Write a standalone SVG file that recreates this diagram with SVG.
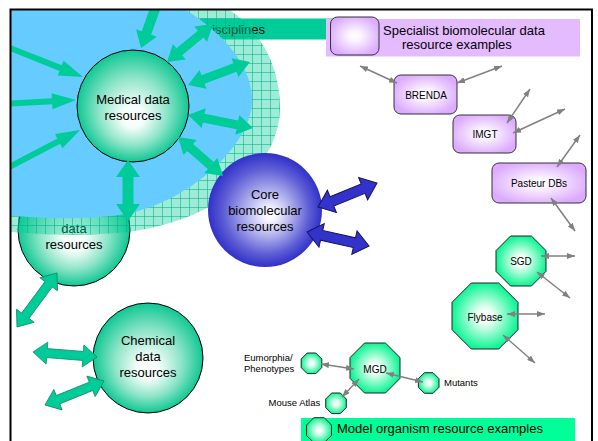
<svg xmlns="http://www.w3.org/2000/svg" width="598" height="441" viewBox="0 0 598 441">
<style>
text{font-family:"Liberation Sans",Arial,sans-serif;fill:#000}
.t13{font-size:13px}
.t10{font-size:10px}
.t9{font-size:9.5px}
.mid{text-anchor:middle}
.circ{stroke:#000;stroke-width:1}
.oct{fill:url(#gGreen);stroke:#222;stroke-width:1}
.pbox{fill:url(#gPurple);stroke:#333;stroke-width:1}
.ta{fill:#00cc99}
.tao{fill:#00cc99;stroke:#128a66;stroke-width:0.8}
.ba{fill:#3333cc;stroke:#14145e;stroke-width:1}
.ga{fill:none;stroke:#808080;stroke-width:1.5;marker-start:url(#gh);marker-end:url(#gh)}
</style>
<defs>
<radialGradient id="gTeal" cx="50%" cy="50%" r="50%" fx="50%" fy="62%">
<stop offset="0" stop-color="#ffffff"/><stop offset="0.2" stop-color="#f4fdfa"/><stop offset="0.6" stop-color="#8fe5c9"/><stop offset="1" stop-color="#10c793"/>
</radialGradient>
<radialGradient id="gBlue" cx="50%" cy="50%" r="50%" fx="55%" fy="55%">
<stop offset="0" stop-color="#ffffff"/><stop offset="0.12" stop-color="#f2f2ff"/><stop offset="0.75" stop-color="#5e5ed6"/><stop offset="1" stop-color="#3030c8"/>
</radialGradient>
<radialGradient id="gGreen" cx="50%" cy="50%" r="50%">
<stop offset="0" stop-color="#ffffff"/><stop offset="0.25" stop-color="#e8fff3"/><stop offset="1" stop-color="#10f595"/>
</radialGradient>
<radialGradient id="gPurple" cx="50%" cy="50%" r="55%">
<stop offset="0" stop-color="#ffffff"/><stop offset="0.25" stop-color="#fbf3ff"/><stop offset="1" stop-color="#dcaaff"/>
</radialGradient>
<pattern id="hatch" width="9" height="9" patternUnits="userSpaceOnUse">
<rect width="9" height="9" fill="#00cc99" fill-opacity="0.38"/>
<path d="M0,0.5H9M0.5,0V9" stroke="#00b386" stroke-width="1" stroke-opacity="0.55"/>
</pattern>
<clipPath id="frameClip"><rect x="11" y="10" width="580" height="431"/></clipPath>
<marker id="gh" viewBox="0 0 8 6" refX="8" refY="3" markerWidth="8" markerHeight="6" markerUnits="userSpaceOnUse" orient="auto-start-reverse">
<path d="M0,0L8,3L0,6z" fill="#808080"/>
</marker>
</defs>

<g id="disciplines-label">
<rect x="200" y="18.5" width="138" height="21" fill="#00cc99"/>
<text class="t13" x="205" y="33.5">disciplines</text>
</g>

<g id="data-resources">
<circle class="circ" cx="74" cy="230" r="56" fill="url(#gTeal)"/>
<text class="t13 mid" x="74" y="233">data</text>
<text class="t13 mid" x="74" y="249">resources</text>
</g>

<g id="domain-area" clip-path="url(#frameClip)">
<path d="M212,0 C255,20 280,60 280,108 C280,160 228,215 140,230 C100,237 40,235 0,231 L0,0 Z" fill="url(#hatch)"/>
<path d="M168,0 C212,22 252,60 252,100 C252,145 190,200 130,213 C90,221 40,218 0,215 L0,0 Z" fill="#66ccff"/>
</g>

<g id="medical">
<circle class="circ" cx="133" cy="106" r="56" fill="url(#gTeal)"/>
<text class="t13 mid" x="133" y="104">Medical data</text>
<text class="t13 mid" x="133" y="120">resources</text>
</g>

<g id="chemical">
<circle class="circ" cx="148" cy="358" r="55" fill="url(#gTeal)"/>
<text class="t13 mid" x="148" y="345">Chemical</text>
<text class="t13 mid" x="148" y="361">data</text>
<text class="t13 mid" x="148" y="377">resources</text>
</g>

<g id="core">
<circle cx="265" cy="210" r="57" fill="url(#gBlue)"/>
<text class="t13 mid" x="265" y="199">Core</text>
<text class="t13 mid" x="265" y="215">biomolecular</text>
<text class="t13 mid" x="265" y="230.5">resources</text>
</g>

<g id="specialist-legend">
<rect x="326" y="19" width="254" height="37.5" fill="#e5bbff"/>
<rect class="pbox" x="330.5" y="17" width="48.5" height="38" rx="7"/>
<text class="t13" x="383" y="35">Specialist biomolecular data</text>
<text class="t13" x="402" y="49">resource examples</text>
</g>

<g id="brenda">
<rect class="pbox" x="394" y="75" width="63" height="39" rx="7"/>
<text class="t10 mid" x="426" y="98.5">BRENDA</text>
</g>
<g id="imgt">
<rect class="pbox" x="453" y="115" width="63" height="38" rx="7"/>
<text class="t10 mid" x="485" y="137.5">IMGT</text>
</g>
<g id="pasteur">
<rect class="pbox" x="492" y="163" width="94" height="40" rx="7"/>
<text class="t10 mid" x="539" y="187">Pasteur DBs</text>
</g>

<g id="sgd">
<polygon class="oct" points="510.6,236 531.4,236 546,250.6 546,271.4 531.4,286 510.6,286 496,271.4 496,250.6"/>
<text class="t10 mid" x="521" y="265">SGD</text>
</g>
<g id="flybase">
<polygon class="oct" points="471.3,283 498.7,283 518,302.3 518,329.7 498.7,349 471.3,349 452,329.7 452,302.3"/>
<text class="t10 mid" x="485" y="321">Flybase</text>
</g>
<g id="mgd">
<polygon class="oct" points="364.6,343 385.4,343 400,357.6 400,378.4 385.4,393 364.6,393 350,378.4 350,357.6"/>
<text class="t10 mid" x="375" y="372.5">MGD</text>
</g>
<g id="eumorphia">
<polygon class="oct" points="307.2,353 315.8,353 321.8,359 321.8,367.6 315.8,373.6 307.2,373.6 301.2,367.6 301.2,359"/>
<text class="t9" x="244" y="361">Eumorphia/</text>
<text class="t9" x="244" y="372">Phenotypes</text>
</g>
<g id="mouse-atlas">
<polygon class="oct" points="331.7,393 340.3,393 346.3,399 346.3,407.6 340.3,413.6 331.7,413.6 325.7,407.6 325.7,399"/>
<text class="t9" x="268.5" y="405.5">Mouse Atlas</text>
</g>
<g id="mutants">
<polygon class="oct" points="424.4,372.7 433,372.7 439,378.7 439,387.3 433,393.3 424.4,393.3 418.4,387.3 418.4,378.7"/>
<text class="t9" x="444" y="385.5">Mutants</text>
</g>

<g id="model-legend">
<rect x="301" y="418" width="274" height="25" fill="#00ff99"/>
<polygon class="oct" points="313.8,417.7 324.2,417.7 331.5,425 331.5,435.4 324.2,442.7 313.8,442.7 306.5,435.4 306.5,425"/>
<text class="t13" x="337" y="433">Model organism resource examples</text>
</g>

<g id="connectors">
<g clip-path="url(#frameClip)">
<polygon class="ta" points="0,-5 40.3,-5 40.3,-11 56.3,0 40.3,11 40.3,5 0,5" transform="translate(160,-5) rotate(109.7)"/>
<polygon class="ta" points="0,-3 65.3,-3 65.3,-8 89.3,0 65.3,8 65.3,3 0,3" transform="translate(0,44) rotate(21.7)"/>
<polygon class="ta" points="0,-3 52.1,-3 52.1,-8 76.1,0 52.1,8 52.1,3 0,3" transform="translate(0,104) rotate(-3)"/>
<polygon class="ta" points="0,-3 66.4,-3 66.4,-8 90.4,0 66.4,8 66.4,3 0,3" transform="translate(0,172) rotate(-27.7)"/>
</g>
<polygon class="ta" points="0,0 16,-10 16,-4.5 43.7,-4.5 43.7,-10 59.7,0 43.7,10 43.7,4.5 16,4.5 16,10" transform="translate(167,62) rotate(-39.6)"/>
<polygon class="ta" points="0,0 16,-10 16,-4.5 50.1,-4.5 50.1,-10 66.1,0 50.1,10 50.1,4.5 16,4.5 16,10" transform="translate(188,85) rotate(-20.35)"/>
<polygon class="ta" points="0,0 16,-10 16,-4.5 50.3,-4.5 50.3,-10 66.3,0 50.3,10 50.3,4.5 16,4.5 16,10" transform="translate(188,115) rotate(11.3)"/>
<polygon class="ta" points="0,0 16,-10 16,-4.5 43.5,-4.5 43.5,-10 59.5,0 43.5,10 43.5,4.5 16,4.5 16,10" transform="translate(178,137) rotate(40.9)"/>
<polygon class="ta" points="0,0 17,-12 17,-5.5 44,-5.5 44,-12 61,0 44,12 44,5.5 17,5.5 17,12" transform="translate(128,160) rotate(90)"/>
<polygon class="tao" points="0,0 14,-11 14,-4.5 53.2,-4.5 53.2,-11 67.2,0 53.2,11 53.2,4.5 14,4.5 14,11" transform="translate(17,327) rotate(-53.5)"/>
<polygon class="tao" points="0,0 14,-11 14,-4.5 50.2,-4.5 50.2,-11 64.2,0 50.2,11 50.2,4.5 14,4.5 14,11" transform="translate(33,352) rotate(4.5)"/>
<polygon class="tao" points="0,0 14,-11 14,-4.5 49.7,-4.5 49.7,-11 63.7,0 49.7,11 49.7,4.5 14,4.5 14,11" transform="translate(45,405) rotate(-22.1)"/>
<polygon class="ba" points="0,0 15,-12 15,-5 48.7,-5 48.7,-12 63.7,0 48.7,12 48.7,5 15,5 15,12" transform="translate(318,207) rotate(-22.1)"/>
<polygon class="ba" points="0,0 15,-12 15,-5 48.6,-5 48.6,-12 63.6,0 48.6,12 48.6,5 15,5 15,12" transform="translate(307,232) rotate(12.7)"/>
<line class="ga" x1="397" y1="83" x2="360" y2="66"/>
<line class="ga" x1="457" y1="83" x2="502" y2="66"/>
<line class="ga" x1="507" y1="123" x2="530" y2="89"/>
<line class="ga" x1="513" y1="133" x2="565" y2="109"/>
<line class="ga" x1="557" y1="167" x2="580" y2="135"/>
<line class="ga" x1="551" y1="198" x2="575" y2="231"/>
<line class="ga" x1="541" y1="256" x2="575" y2="256"/>
<line class="ga" x1="537" y1="272" x2="570" y2="298"/>
<line class="ga" x1="507" y1="314" x2="545" y2="314"/>
<line class="ga" x1="503" y1="335" x2="535" y2="363"/>
<line class="ga" x1="321" y1="364" x2="354" y2="369"/>
<line class="ga" x1="386" y1="373" x2="423" y2="382"/>
<line class="ga" x1="359" y1="379" x2="342" y2="397"/>
</g>

<rect id="frame" x="10.5" y="9.5" width="581.5" height="460" fill="none" stroke="#000" stroke-width="2"/>
</svg>
